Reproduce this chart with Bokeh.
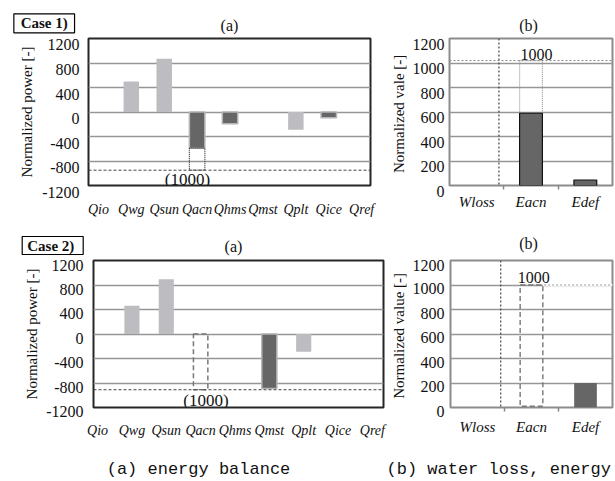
from bokeh.plotting import figure
from bokeh.layouts import column, row
from bokeh.models import Range1d, FixedTicker, Label, Span, ColumnDataSource
from bokeh.core.properties import value
from bokeh.embed import file_html
from bokeh.resources import INLINE

# ---------------- data ----------------
energy_categories = ["Qio", "Qwg", "Qsun", "Qacn", "Qhms", "Qmst", "Qplt", "Qice", "Qref"]
energy_ticks = [-1200, -800, -400, 0, 400, 800, 1200]

case1_energy = [0, 500, 870, -590, -190, 0, -290, -95, 0]
case1_energy_tone = ["light", "light", "light", "dark", "dark", "dark", "light", "dark", "light"]
case1_acn_reference = -950          # dotted "(1000)" reference level

case2_energy = [0, 460, 895, 0, 0, -890, -290, 0, 0]
case2_energy_tone = ["light", "light", "light", "dark", "dark", "dark", "light", "dark", "light"]
case2_acn_reference = -910

water_categories = ["Wloss", "Eacn", "Edef"]
water_ticks = [0, 200, 400, 600, 800, 1000, 1200]
case1_water = [0, 590, 45]
case1_water_reference = 1020
case2_water = [0, 10, 200]
case2_water_reference = 1000

panel_titles = ["(a)", "(b)"]
case_titles = ["Case 1)", "Case  2)"]
captions = ["(a) energy balance", "(b) water loss, energy"]

ACN = energy_categories.index("Qacn")
EACN = water_categories.index("Eacn")

# ---------------- styles ----------------
LIGHT = "#bdbdc1"
DARK = "#666666"
GRID = "#969696"
SERIF = "Liberation Serif"
TEXT = "#111111"


def make_fig(width, height, left, right, top, frame_h, x_range, y_range):
    p = figure(width=width, height=height, x_range=x_range, y_range=y_range,
               min_border_left=left, min_border_right=right, min_border_top=top,
               min_border_bottom=height - top - frame_h,
               toolbar_location=None, output_backend="svg")
    p.background_fill_color = "white"
    p.border_fill_color = "white"
    p.xgrid.grid_line_color = None
    return p


def strip(width, height):
    p = figure(width=width, height=height, x_range=Range1d(0, width), y_range=Range1d(0, height),
               min_border=0, toolbar_location=None, output_backend="svg",
               x_axis_location=None, y_axis_location=None)
    p.grid.grid_line_color = None
    p.outline_line_color = None
    p.background_fill_color = "white"
    p.border_fill_color = "white"
    return p


def style_y(p, ticks, label, standoff, shift, line_h, label_standoff):
    # labels in the reference sit a few pixels below their grid lines
    top = ticks[-1]
    label_ticks = ticks[:-1] + [top - shift]
    overrides = {t: "\n" + str(t) for t in ticks[:-1]}
    overrides[top - shift] = str(top)
    ax = p.yaxis[0]
    ax.ticker = FixedTicker(ticks=label_ticks)
    ax.major_label_overrides = overrides
    ax.major_label_text_font = SERIF
    ax.major_label_text_font_size = "16px"
    ax.major_label_text_color = TEXT
    ax.major_label_text_line_height = line_h
    ax.major_tick_line_color = None
    ax.major_tick_out = 0
    ax.major_tick_in = 0
    ax.minor_tick_line_color = None
    ax.axis_line_color = None
    ax.major_label_standoff = standoff
    ax.axis_label = label
    ax.axis_label_text_font = SERIF
    ax.axis_label_text_font_size = "15px"
    ax.axis_label_text_font_style = "normal"
    ax.axis_label_text_color = TEXT
    ax.axis_label_standoff = label_standoff
    p.ygrid.ticker = FixedTicker(ticks=ticks)
    p.ygrid.grid_line_color = GRID
    p.ygrid.grid_line_width = 1.6


def style_x(p, cats, standoff, size, minor=None):
    ax = p.xaxis[0]
    ax.ticker = FixedTicker(ticks=list(range(len(cats))), minor_ticks=minor or [])
    ax.major_label_overrides = {i: c for i, c in enumerate(cats)}
    ax.major_label_text_font = SERIF
    ax.major_label_text_font_style = "italic"
    ax.major_label_text_font_size = size
    ax.major_label_text_color = TEXT
    ax.major_tick_line_color = None
    ax.major_tick_out = 0
    ax.major_tick_in = 0
    if minor:
        ax.minor_tick_line_color = "#888888"
        ax.minor_tick_out = 4
        ax.minor_tick_in = 0
        ax.minor_tick_line_width = 1.5
    else:
        ax.minor_tick_line_color = None
    ax.axis_line_color = None
    ax.major_label_standoff = standoff


def text_label(p, x, y, text, size="16px"):
    p.add_layout(Label(x=x, y=y, text=text, text_font=SERIF, text_font_size=size,
                       text_color=TEXT, text_align="center", text_baseline="middle"))


def energy_bars(p, vals, tones, width):
    for tone, fill, line in (("light", LIGHT, None), ("dark", DARK, "#b4b4b8")):
        xs = [i for i, v in enumerate(vals) if v != 0 and tones[i] == tone]
        src = ColumnDataSource(dict(x=xs, top=[vals[i] for i in xs]))
        p.vbar(x="x", top="top", bottom=0, width=width, source=src,
               fill_color=fill, line_color=line, line_width=1.5)


def header(p, case_text, box_x, box_y, box_w, box_h, a_xy, b_xy):
    p.rect(x=[box_x], y=[box_y], width=[box_w], height=[box_h],
           fill_color="white", line_color="black", line_width=1.2)
    p.text(x=[box_x], y=[box_y], text=[case_text], text_align="center", text_baseline="middle",
           text_font=value(SERIF), text_font_size="15px", text_font_style="bold", text_color=TEXT)
    p.text(x=[a_xy[0], b_xy[0]], y=[a_xy[1], b_xy[1]], text=panel_titles,
           text_align="center", text_baseline="middle",
           text_font=value(SERIF), text_font_size="16px", text_color=TEXT)


W = 615
AW, BW = 387, 228

# ---------------- header strip case 1 ----------------
s1 = strip(W, 34)
header(s1, case_titles[0], 43.7, 11.2, 60.7, 19, (229, 9.5), (528, 9.5))

# ---------------- Case 1 (a) ----------------
a1 = make_fig(AW, 188, 88, 17, 4, 150, Range1d(-0.301, 8.268), Range1d(-1200, 1200))
style_y(a1, energy_ticks, "Normalized power [-]", 9, 100, 0.8, 4)
style_x(a1, energy_categories, 16, "14px")
a1.outline_line_color = "#262626"
a1.outline_line_width = 2
energy_bars(a1, case1_energy, case1_energy_tone, 0.47)
a1.vbar(x=[ACN], bottom=[case1_energy[ACN]], top=[case1_acn_reference], width=0.47,
        fill_color=None, line_color="#333333", line_dash="1 1", line_width=1.2)
a1.add_layout(Span(location=case1_acn_reference, dimension="width",
                   line_color="#444444", line_dash="3 2", line_width=1))
text_label(a1, 2.707, -1095, "(1000)", size="17px")

# ---------------- Case 1 (b) ----------------
b1 = make_fig(BW, 188, 60, 3, 3, 148, Range1d(-0.5, 2.5), Range1d(0, 1200))
style_y(b1, water_ticks, "Normalized vale  [-]", 5, 45, 0.69, 3)
style_x(b1, water_categories, 4, "15px", minor=[0.5, 1.5])
b1.outline_line_color = "#8c8c8c"
b1.outline_line_width = 2
b1.add_layout(Span(location=0.41, dimension="height", line_color="#444444",
                   line_dash="2 2", line_width=1.2))
b1.add_layout(Span(location=case1_water_reference, dimension="width",
                   line_color="#888888", line_dash="2 2", line_width=1))
b1.vbar(x=[EACN], bottom=[case1_water[EACN]], top=[case1_water_reference], width=0.42,
        fill_color=None, line_color="#999999", line_dash="1 1", line_width=1.2)
xs = [i for i, v in enumerate(case1_water) if v != 0]
b1.vbar(x=xs, top=[case1_water[i] for i in xs], bottom=0, width=0.42,
        fill_color=DARK, line_color="#111111", line_width=1.2)
text_label(b1, 1.1, 1073, "1000", size="16px")

# ---------------- header strip case 2 ----------------
s2 = strip(W, 34)
header(s2, case_titles[1], 52.2, 11, 61, 18, (233, 10), (528, 12.7))

# ---------------- Case 2 (a) ----------------
a2 = make_fig(AW, 196, 93, 4, 4, 150, Range1d(-0.119, 8.323), Range1d(-1200, 1200))
style_y(a2, energy_ticks, "Normalized power [-]", 10, 64, 0.5, 3)
style_x(a2, energy_categories, 15, "14px")
a2.outline_line_color = "#262626"
a2.outline_line_width = 2
energy_bars(a2, case2_energy, case2_energy_tone, 0.44)
a2.vbar(x=[ACN], bottom=[0], top=[case2_acn_reference], width=0.42,
        fill_color=None, line_color="#777777", line_dash="5 3", line_width=1.5)
a2.add_layout(Span(location=case2_acn_reference, dimension="width",
                   line_color="#444444", line_dash="3 2", line_width=1))
text_label(a2, 3.156, -1093, "(1000)", size="17px")

# ---------------- Case 2 (b) ----------------
b2 = make_fig(BW, 196, 60, 3, 4, 147, Range1d(-0.5, 2.5), Range1d(0, 1200))
style_y(b2, water_ticks, "Normalized value  [-]", 6, 30, 0.46, 3)
style_x(b2, water_categories, 7, "15px", minor=[0.5, 1.5])
b2.outline_line_color = "#8c8c8c"
b2.outline_line_width = 2
b2.add_layout(Span(location=0.43, dimension="height", line_color="#444444",
                   line_dash="2 2", line_width=1.2))
b2.segment(x0=[EACN + 0.21], y0=[case2_water_reference], x1=[2.5], y1=[case2_water_reference],
           line_color="white", line_width=2.5)
b2.segment(x0=[EACN - 0.21], y0=[case2_water_reference], x1=[2.5], y1=[case2_water_reference],
           line_color="#999999", line_dash="2 2", line_width=1.2)
b2.vbar(x=[EACN], bottom=[case2_water[EACN]], top=[case2_water_reference], width=0.42,
        fill_color=None, line_color="#777777", line_dash="5 3", line_width=1.4)
b2.vbar(x=[2], top=[case2_water[2]], bottom=0, width=0.42,
        fill_color=DARK, line_color=None)
text_label(b2, 1.04, 1064, "1000", size="16px")

# ---------------- captions ----------------
cap = strip(W, 29)
cap.text(x=[198, 386], y=[12, 12], text=captions,
         text_align=["center", "left"], text_baseline="middle",
         text_font=value("Liberation Mono"), text_font_size="17px", text_color=TEXT)

layout = column(s1, row(a1, b1), s2, row(a2, b2), cap)
open("out.html", "w").write(file_html(layout, INLINE))
